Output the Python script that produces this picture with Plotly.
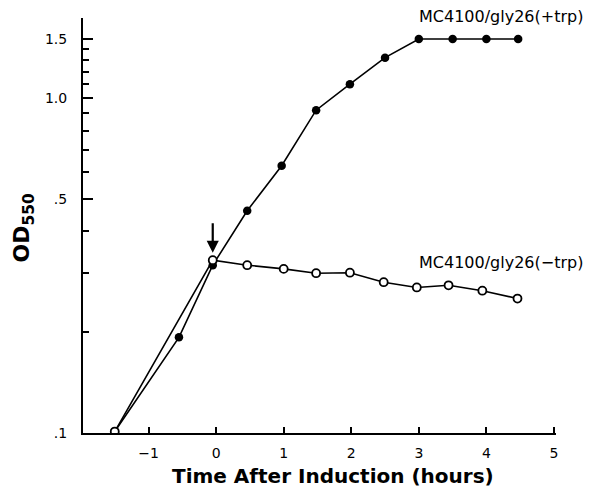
import math
import plotly.graph_objects as go

# Data
time_plus = [-1.5, -0.55, -0.05, 0.46, 0.97, 1.48, 1.98, 2.5, 3.0, 3.5, 4.0, 4.47]
od_plus = [0.101, 0.193, 0.317, 0.461, 0.628, 0.92, 1.10, 1.32, 1.5, 1.5, 1.5, 1.5]

time_minus = [-1.5, -0.05, 0.46, 1.0, 1.48, 1.98, 2.48, 2.97, 3.44, 3.94, 4.46]
od_minus = [0.101, 0.328, 0.317, 0.309, 0.30, 0.301, 0.282, 0.272, 0.276, 0.266, 0.252]

x_tickvals = [-1, 0, 1, 2, 3, 4, 5]
x_ticktext = ["\u22121", "0", "1", "2", "3", "4", "5"]
y_tickvals = [0.1, 0.5, 1.0, 1.5]
y_ticktext = [".1", ".5", "1.0", "1.5"]
y_minorvals = [0.2, 0.3, 0.4, 0.6, 0.7, 0.8, 0.9, 1.1, 1.2, 1.3, 1.4]

label_plus = "MC4100/gly26(+trp)"
label_minus = "MC4100/gly26(\u2212trp)"
induction_time = -0.05
arrow_tip_od = 0.345

FONT = "DejaVu Sans, Arial, sans-serif"

fig = go.Figure()
fig.add_trace(go.Scatter(
    x=time_plus, y=od_plus, mode="lines+markers",
    line=dict(color="black", width=1.6),
    marker=dict(symbol="circle", size=8.5, color="black"),
    showlegend=False,
))
fig.add_trace(go.Scatter(
    x=time_minus, y=od_minus, mode="lines+markers",
    line=dict(color="black", width=1.6),
    marker=dict(symbol="circle", size=8, color="white",
                line=dict(color="black", width=1.8)),
    showlegend=False,
))

fig.update_layout(
    width=586, height=487,
    margin=dict(l=75, r=38, t=10, b=62),
    paper_bgcolor="white", plot_bgcolor="white",
    font=dict(family=FONT, color="black", size=14),
    xaxis=dict(
        range=[-1.97, 5.03], showgrid=False, zeroline=False,
        showline=True, linecolor="black", linewidth=2,
        ticks="inside", ticklen=6, tickwidth=1.5, tickcolor="black",
        tickmode="array", tickvals=x_tickvals, ticktext=x_ticktext,
        tickfont=dict(size=14, family=FONT), ticklabelstandoff=6,
    ),
    yaxis=dict(
        type="log", range=[-1, 0.239], showgrid=False, zeroline=False,
        showline=True, linecolor="black", linewidth=2,
        ticks="inside", ticklen=10, tickwidth=1.5, tickcolor="black",
        tickmode="array", tickvals=y_tickvals, ticktext=y_ticktext,
        tickfont=dict(size=14, family=FONT), ticklabelstandoff=11,
        minor=dict(ticks="inside", ticklen=6, tickwidth=1.5, tickcolor="black",
                   tickmode="array", tickvals=y_minorvals, showgrid=False),
    ),
    annotations=[
        dict(text="Time After Induction (hours)", xref="paper", yref="paper",
             x=0.529, y=-0.104, xanchor="center", yanchor="middle",
             showarrow=False, font=dict(size=20, family=FONT, weight="bold")),
        dict(text="OD<sub>550</sub>", xref="paper", yref="paper",
             x=-0.125, y=0.495, xanchor="center", yanchor="middle",
             textangle=-90, showarrow=False,
             font=dict(size=22, family=FONT, weight="bold")),
        dict(text=label_plus, xref="paper", yref="paper",
             x=0.706, y=1.003, xanchor="left", yanchor="middle",
             showarrow=False, font=dict(size=16, family=FONT)),
        dict(text=label_minus, xref="paper", yref="paper",
             x=0.706, y=0.41, xanchor="left", yanchor="middle",
             showarrow=False, font=dict(size=16, family=FONT)),
        dict(text="", x=induction_time, y=math.log10(arrow_tip_od),
             xref="x", yref="y", showarrow=True, ax=0, ay=-31,
             arrowhead=2, arrowsize=1.1, arrowwidth=2.2, arrowcolor="black",
             standoff=0),
    ],
)

fig.write_html("out.html")
